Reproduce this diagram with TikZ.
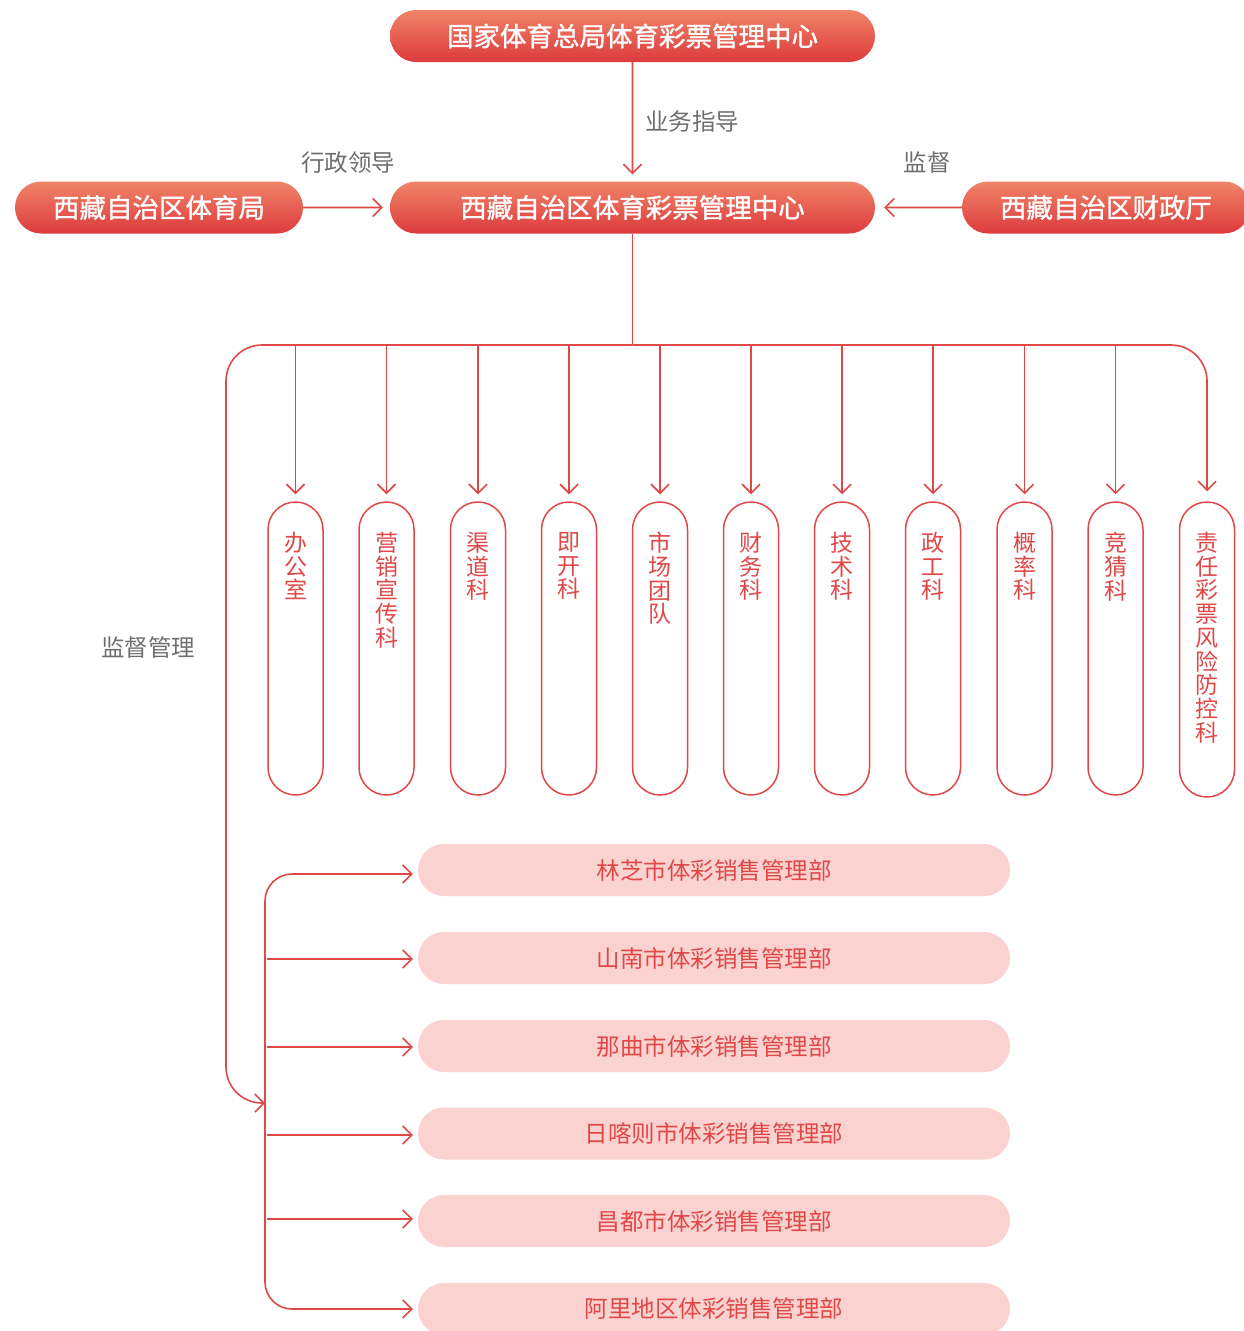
\documentclass[tikz,border=0pt]{standalone}
\usepackage{fontspec}
\setmainfont{Noto Sans CJK SC}
\newfontfamily\medfont{Noto Sans CJK SC}[FakeBold=1.2]
\usetikzlibrary{arrows.meta,shapes.misc}
\definecolor{lred}{HTML}{E04848}
\definecolor{gtop}{HTML}{F08468}
\definecolor{gbot}{HTML}{DD3A3D}
\definecolor{pinkf}{HTML}{FAD3D1}
\definecolor{graytxt}{HTML}{6E6E6E}
\begin{document}
\begin{tikzpicture}[x=1pt,y=-1pt,
  topbox/.style={rounded rectangle, top color=gtop, bottom color=gbot, draw=none,
    text=white, font=\medfont\fontsize{26.5}{30}\selectfont, minimum height=52, inner sep=0},
  dept/.style={draw=lred, line width=1.5, fill=white, rounded corners=27.5,
    minimum width=55, minimum height=293, inner sep=0},
  depttext/.style={text=lred, font=\fontsize{23}{23.7}\selectfont, align=center,
    anchor=north, inner sep=0},
  city/.style={rounded rectangle, fill=pinkf, draw=none, text=lred,
    font=\fontsize{23.5}{28}\selectfont, minimum width=592, minimum height=52, inner sep=0},
  lbl/.style={text=graytxt, font=\fontsize{23.5}{28}\selectfont, inner sep=0},
  conn/.style={draw=lred, line width=1.6},
  arr/.style={conn, -{Straight Barb[length=9,width=18,line width=1.6]}}
]
\useasboundingbox (0,0) rectangle (1243,1331);

% top level
\node[topbox, minimum width=485] (nat) at (632.5,36) {国家体育总局体育彩票管理中心};
\node[topbox, minimum width=485] (ctr) at (632.5,207.5) {西藏自治区体育彩票管理中心};
\node[topbox, minimum width=288] (sport) at (159,207.5) {西藏自治区体育局};
\node[topbox, minimum width=288] (fin) at (1106,207.5) {西藏自治区财政厅};

\draw[arr, shorten >=7] (nat) -- (ctr);
\draw[arr, shorten >=7] (sport) -- (ctr);
\draw[arr, shorten >=9] (fin) -- (ctr);

\node[lbl] (l1) at (692,122) {业务指导};
\node[lbl] (l2) at (348,163) {行政领导};
\node[lbl] (l3) at (927,163) {监督};
\node[lbl] (l4) at (148,648) {监督管理};

% departments
\coordinate (bus) at (632.5,345);
\foreach \i/\x/\t in {1/295.5/办\\公\\室, 2/386.5/营\\销\\宣\\传\\科, 3/478/渠\\道\\科,
  4/569/即\\开\\科, 5/660/市\\场\\团\\队, 6/751/财\\务\\科, 7/842/技\\术\\科,
  8/933/政\\工\\科, 9/1024.5/概\\率\\科, 10/1115.5/竞\\猜\\科}{
  \node[dept] (d\i) at (\x,648.5) {};
  \node[depttext] (t\i) at (\x,532) {\t};
  \draw[arr, shorten >=7] (\x,345) -- (d\i.north);
}
\node[dept, minimum height=295] (d11) at (1207,649.5) {};
\node[depttext] (t11) at (1207,532) {责\\任\\彩\\票\\风\\险\\防\\控\\科};

\draw[conn] (ctr.south) -- (bus);
\draw[arr, shorten >=10, rounded corners=36] (bus) -- (1207,345) -- (d11.north);

% cities
\node[city] (c1) at (714,870) {林芝市体彩销售管理部};
\node[city] (c2) at (714,958) {山南市体彩销售管理部};
\node[city] (c3) at (714,1046) {那曲市体彩销售管理部};
\node[city] (c4) at (714,1133.5) {日喀则市体彩销售管理部};
\node[city] (c5) at (714,1221) {昌都市体彩销售管理部};
\node[city] (c6) at (714,1309) {阿里地区体彩销售管理部};

\coordinate (brk) at (265,1103);
\draw[arr, rounded corners=36] (bus) -- (226,345) -- (226,1103) -- (brk);

\draw[conn, {Straight Barb[length=9,width=18,line width=1.6]}-{Straight Barb[length=9,width=18,line width=1.6]},
  rounded corners=27, shorten <=5, shorten >=5]
  (c1.west |- 0,874) -- (265,874) -- (265,1309) -- (c6.west);
\foreach \i/\y in {2/959, 3/1047, 4/1135, 5/1219}{
  \draw[arr, shorten >=5] (267,\y) -- (c\i.west |- 0,\y);
}
\end{tikzpicture}
\end{document}
